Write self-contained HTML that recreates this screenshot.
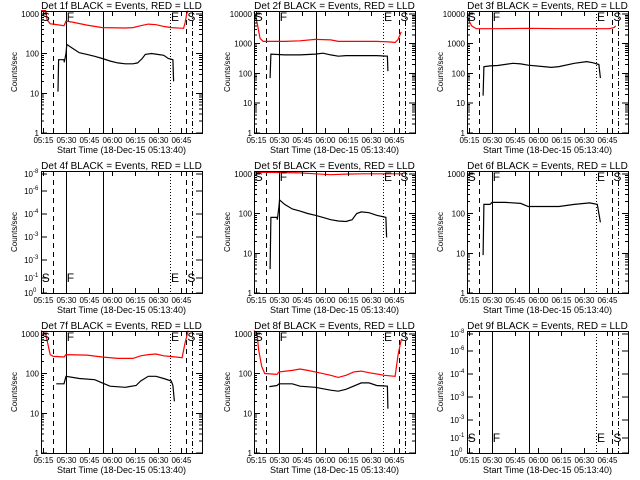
<!DOCTYPE html>
<html><head><meta charset="utf-8"><style>
html,body{margin:0;padding:0;background:#fff;}
svg{display:block;font-family:"Liberation Sans",sans-serif;}
line,rect{shape-rendering:crispEdges;}
</style></head><body>
<svg id="chart" width="640" height="480" viewBox="0 0 640 480" xmlns="http://www.w3.org/2000/svg">
<rect x="0" y="0" width="640" height="480" fill="#fff"/>
</svg>
<script>
const detNames = ["1f","2f","3f","4f","5f","6f","7f","8f","9f"];
const yMaxLog = [3.07,4.1,4.1,0,3.07,3.07,3.07,3.07,0];
const xTickLabels = ["05:15","05:30","05:45","06:00","06:15","06:30","06:45"];
const xTickMinutes = [1.33,16.33,31.33,46.33,61.33,76.33,91.33];
const markerMinutes = [7.8,16.3,40.4,84,94.6,98.5];
const markerDash = ["5,4","","","1,2","5,4","5,2,1,2"];
const letterLabels = ["S","F","E","S"];
const letterMinutes = [0.5,16.8,84.8,95.5];
const red1 = [[0,1200],[3,1200],[4,700],[6,560],[8,550],[15,500],[16.3,650],[20,620],[30,520],[40,450],[55,440],[60,450],[65,500],[70,550],[75,530],[80,480],[85,450],[93,430],[94,600],[95,1000],[96,1200]];
const black1 = [[11.1,11],[11.5,70],[15,70],[15.2,60],[16.3,100],[16.8,170],[20,140],[25,105],[30,95],[35,85],[40,75],[45,65],[50,58],[55,55],[60,55],[63,58],[66,75],[68,95],[72,100],[76,95],[80,90],[83,75],[86,70],[86.5,20]];
const red2 = [[0,12000],[2,5000],[4,1500],[6,1200],[20,1200],[30,1250],[40,1400],[50,1350],[55,1200],[65,1200],[80,1200],[88,1150],[92,1100],[94,1400],[96,2500]];
const black2 = [[10.5,70],[11,450],[20,420],[30,420],[40,450],[45,480],[50,420],[55,380],[60,400],[70,400],[80,400],[87,380],[87.3,120]];
const red3 = [[0,8000],[3,4000],[6,3200],[20,3200],[40,3300],[60,3200],[80,3200],[93,3200],[96,3500],[97,4000]];
const black3 = [[10.5,18],[11,170],[15,180],[20,185],[30,220],[35,210],[40,190],[50,170],[55,160],[60,170],[70,220],[78,250],[82,230],[86,200],[87,70]];
const red5 = [[0,1100],[30,1050],[40,1000],[50,950],[60,980],[70,1000],[80,1000],[90,1000],[97,1000]];
const black5 = [[10.5,4],[11,80],[15,80],[15.2,70],[16.3,150],[16.6,220],[20,170],[25,130],[30,115],[35,100],[40,90],[45,80],[50,70],[55,65],[60,63],[64,70],[67,100],[70,110],[75,105],[80,90],[86,80],[86.5,25]];
const black6 = [[10.5,9],[11,170],[15,170],[16.3,190],[25,190],[35,180],[40,150],[50,150],[60,150],[70,170],[80,185],[85,170],[87,60]];
const red7 = [[0,1200],[3,1000],[6,300],[8,270],[15,260],[16.3,300],[30,290],[40,260],[50,240],[60,240],[65,280],[70,300],[75,310],[80,280],[88,260],[92,250],[94,600],[96,1200]];
const black7 = [[10,55],[15,55],[16.3,85],[25,75],[35,70],[40,58],[45,48],[55,45],[62,50],[65,65],[70,85],[75,85],[80,75],[85,65],[86,50],[87,20]];
const red8 = [[0,1200],[2,1000],[3,400],[5,150],[7,100],[15,95],[16.3,110],[25,120],[30,130],[35,120],[40,110],[50,90],[55,80],[60,90],[65,110],[70,115],[75,105],[85,90],[92,85],[94,300],[96,700]];
const black8 = [[10,47],[15,50],[16.3,55],[25,55],[30,48],[40,45],[50,38],[55,36],[60,40],[70,58],[75,58],[80,50],[87,48],[87.3,13]];
const redSeries = [red1,red2,red3,[],red5,[],red7,red8,[]];
const blackSeries = [black1,black2,black3,[],black5,black6,black7,black8,[]];
const emptyYLabels = ["0","-1","-3","-3","-4","-6","-8"];

const NS = "http://www.w3.org/2000/svg";
const svg = document.getElementById("chart");
function mk(tag, attrs, parent){const e=document.createElementNS(NS,tag);for(const k in attrs)e.setAttribute(k,attrs[k]);parent.appendChild(e);return e;}
const L=41,R=202,T=11,B=133,TMAX=105;

for(let p=0;p<9;p++){
  const ox=(p%3)*213, oy=Math.floor(p/3)*160;
  const g=mk("g",{transform:`translate(${ox},${oy})`},svg);
  
  
  const xs=t=>L+t*(R-L)/TMAX;
  const lm=yMaxLog[p];
  const ys=v=>B-Math.log10(v)*(B-T)/lm;
  const t1=mk("text",{x:(L+R)/2,y:9,"text-anchor":"middle","font-size":"10"},g);
  t1.textContent=`Det ${detNames[p]} BLACK = Events, RED = LLD`;
  
  
  markerMinutes.forEach((m,i)=>{
    const x=Math.round(xs(m))+0.5;
    const ln=mk("line",{x1:x,x2:x,y1:T,y2:B,stroke:"#000","stroke-width":"1"},g);
    if(markerDash[i])ln.setAttribute("stroke-dasharray",markerDash[i]);
    
    
  });
  const drawS=(arr,col,name)=>{
    if(!arr.length)return;
    const pl=mk("polyline",{points:arr.map(d=>xs(d[0]).toFixed(1)+","+ys(d[1]).toFixed(1)).join(" "),fill:"none",stroke:col,"stroke-width":"1.2"},g);
    
    
  };
  if(lm>0){drawS(redSeries[p],"#ff0000","lld-series");drawS(blackSeries[p],"#000","events-series");}
  letterLabels.forEach((s,i)=>{
    const tx=mk("text",{x:xs(letterMinutes[i]),y:lm>0?21:122,"font-size":"12"},g);
    tx.textContent=s;
    
    
  });
  const fr=mk("rect",{x:L+0.5,y:T+0.5,width:R-L,height:B-T,fill:"none",stroke:"#000","stroke-width":"1"},g);
  
  
  xTickMinutes.forEach((m,i)=>{
    const x=Math.round(xs(m))+0.5;
    mk("line",{x1:x,x2:x,y1:B,y2:B-5,stroke:"#000"},g);
    mk("line",{x1:x,x2:x,y1:T,y2:T+5,stroke:"#000"},g);
    const tx=mk("text",{x:x,y:B+10,"text-anchor":"middle","font-size":"8"},g);
    tx.textContent=xTickLabels[i];
    
    
  });
  const xt=mk("text",{x:(L+R)/2,y:B+20,"text-anchor":"middle","font-size":"9"},g);
  xt.textContent="Start Time (18-Dec-15 05:13:40)";
  
  
  const yt=mk("text",{x:0,y:0,"text-anchor":"middle","font-size":"8",transform:`translate(17,${(T+B)/2}) rotate(-90)`},g);
  yt.textContent="Counts/sec";
  
  
  if(lm>0){
    for(let d=0;d<=Math.floor(lm);d++){
      const y=ys(Math.pow(10,d));
      mk("line",{x1:L,x2:L+6,y1:y,y2:y,stroke:"#000"},g);
      mk("line",{x1:R,x2:R-6,y1:y,y2:y,stroke:"#000"},g);
      const tx=mk("text",{x:L-2,y:y+3,"text-anchor":"end","font-size":"8"},g);
      tx.textContent=String(Math.pow(10,d));
      
      
      for(let k=2;k<10;k++){
        const v=k*Math.pow(10,d); if(Math.log10(v)>lm)break;
        const yy=ys(v);
        mk("line",{x1:L,x2:L+3,y1:yy,y2:yy,stroke:"#000"},g);
        mk("line",{x1:R,x2:R-3,y1:yy,y2:yy,stroke:"#000"},g);
      }
    }
  } else {
    const pos=[133,118,100,77,54,31,14];
    pos.forEach((y,i)=>{
      mk("line",{x1:L,x2:L+6,y1:y,y2:y,stroke:"#000"},g);
      mk("line",{x1:R,x2:R-6,y1:y,y2:y,stroke:"#000"},g);
      const tx=mk("text",{x:L-8,y:y+3,"text-anchor":"end","font-size":"8"},g);
      tx.textContent="10";
      
      
      const sp=mk("text",{x:L-8,y:y-1,"font-size":"6"},g);
      sp.textContent=emptyYLabels[i];
      
      
    });
  }
}
</script>
</body></html>
